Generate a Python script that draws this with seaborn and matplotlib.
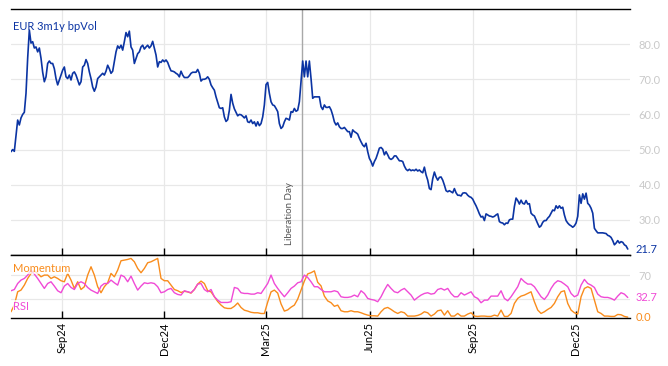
import numpy as np
import pandas as pd
import matplotlib
matplotlib.use("Agg")
import matplotlib.pyplot as plt
import matplotlib.dates as mdates
import matplotlib.transforms as mtransforms
import seaborn as sns

# ---------------- data ----------------
start_date = "2024-07-18"
end_date = "2026-01-16"
event_date = "2025-04-02"
event_label = "Liberation Day"
vol_label = "EUR 3m1y bpVol"
mom_label = "Momentum"
rsi_label = "RSI"

vol = [
    49.4, 50.0, 49.5, 54.0, 58.4, 57.0, 59.0, 60.0, 60.6, 66.0, 76.0, 84.0, 80.3, 80.7, 78.9, 79.2,
    77.8, 78.9, 76.0, 72.0, 69.3, 70.7, 74.5, 75.2, 74.5, 74.5, 73.0, 70.2, 68.4, 69.8, 71.2, 72.6,
    73.5, 70.7, 70.2, 71.2, 69.8, 71.7, 72.1, 71.2, 69.8, 68.4, 69.3, 73.5, 74.0, 75.6, 74.5, 72.1,
    70.2, 67.8, 66.6, 67.8, 70.2, 70.7, 71.2, 71.7, 71.2, 72.3, 74.0, 73.0, 71.7,
    72.3, 75.0, 77.8, 79.5, 78.8, 79.7, 78.3, 80.7, 83.3, 82.1, 83.7, 79.2, 78.3, 74.5, 75.9, 77.3,
    77.8, 79.2, 79.7, 78.6, 79.2, 79.7, 78.9, 79.5, 80.8, 78.8, 76.9, 73.5, 75.0, 74.8, 75.5, 75.0,
    75.5, 74.8, 73.5, 72.4, 72.3, 72.1, 71.7, 71.4, 70.7, 72.3, 71.2, 70.5, 70.5, 70.5, 71.0, 71.7,
    72.0, 72.0, 72.0, 72.8, 71.7, 69.5, 70.0, 70.0, 70.2, 70.7, 70.0, 68.4, 67.6,
    66.9, 65.0, 63.4, 61.9, 61.7, 61.9, 59.3, 58.0, 58.5, 61.2, 65.7, 63.2, 61.6, 60.6, 59.6, 60.0,
    59.9, 59.5, 59.0, 59.6, 57.9, 57.7, 58.4, 57.4, 57.9, 56.7, 57.9, 56.8, 57.4, 59.3, 62.7, 68.5,
    69.1, 66.0, 63.6, 62.7, 62.5, 61.7, 60.8, 57.4, 56.0, 56.5, 57.9, 58.9, 58.7, 58.4, 60.8, 60.6,
    61.7, 60.9, 61.2, 63.6, 69.3, 75.2, 70.7, 75.2, 70.7, 75.2, 70.2, 64.6, 65.0,
    65.0, 65.0, 65.0, 62.2, 61.4, 62.7, 62.0, 62.0, 62.2, 61.3, 59.8, 57.9, 57.0, 57.6, 56.5, 56.0,
    56.0, 56.3, 55.7, 55.1, 55.1, 53.5, 55.6, 55.1, 54.8, 54.4, 53.2, 52.2, 51.3, 50.8, 51.8, 49.4,
    47.5, 46.6, 45.3, 46.6, 47.5, 48.9, 50.4, 50.6, 50.1, 48.5, 49.4, 48.5, 47.5, 47.2, 47.5, 48.2,
    48.2, 47.5, 46.8, 46.8, 46.6, 45.3, 44.4, 44.0, 44.4, 44.0, 44.2, 44.0, 44.4, 43.9, 44.2,
    43.7, 43.4, 45.0, 42.8, 41.3, 38.9, 38.6, 41.7, 43.6, 42.2, 41.3, 42.1, 42.2, 41.3, 39.9, 38.3,
    38.0, 38.3, 38.0, 37.7, 38.9, 37.7, 37.0, 37.0, 36.8, 37.6, 37.7, 37.6, 37.0, 36.6, 36.4, 35.9,
    34.9, 34.0, 32.9, 31.7, 30.8, 31.0, 29.8, 31.7, 31.4, 31.1, 31.0, 30.8, 31.0, 31.4, 31.7, 29.5,
    29.2, 29.1, 28.6, 29.1, 29.0, 30.0, 30.2, 30.2, 33.8, 36.2, 35.5, 34.5, 35.6, 34.7, 34.5,
    35.5, 34.5, 34.6, 31.9, 31.4, 31.1, 30.0, 28.9, 27.9, 28.3, 29.3, 29.8, 29.8, 30.5, 31.0, 31.9,
    32.8, 32.6, 34.0, 33.3, 34.0, 33.3, 33.6, 31.4, 29.8, 29.1, 28.6, 28.3, 27.9, 28.3, 29.1, 31.0,
    37.1, 34.7, 37.4, 35.9, 37.6, 34.7, 34.2, 33.3, 31.9, 27.6, 26.9, 26.3, 26.3, 26.3, 26.3, 26.2,
    26.1, 25.6, 25.4, 25.0, 24.1, 22.9, 23.4, 24.1, 23.4, 23.8, 23.6, 22.9, 22.6, 21.7,
]

momentum = [
    8.9, 20, 42.2, 45, 53.3, 64.4, 72.8, 77.2, 72.8, 67.2,
    70, 70, 64.4, 67.2, 64.4, 60.6, 58.9, 72.8, 61.7, 47.8,
    58.9, 46, 50.6, 70, 83.9, 70, 50.6, 40.6, 50.6, 57.2,
    72.8, 67.2, 78.3, 93.9, 95, 96.1, 97.8, 92.2, 81.1, 73.9,
    81.1, 90.6, 92.2, 95, 97.8, 64.4, 60.6, 60.6, 53.3, 46,
    44, 41, 43, 42, 40, 46, 55, 60, 56, 44,
    42, 34, 26, 20, 15.5, 14.4, 14.4, 18, 23.5, 16,
    11.5, 10, 8, 7.2, 7.2, 6, 6, 25, 42, 45,
    40, 22, 10, 12, 16.5, 20, 30, 45, 60, 72,
    74, 77, 58, 52, 35, 27, 24, 18, 20,
    10.6, 8.9, 8.9, 10.6, 8.9, 8.9, 7.2, 5, 3.3, 2.2,
    2.2, 1.7, 8.9, 14.4, 16.1, 12.8, 8.9, 6.1, 8.9, 7.2,
    1.7, 1.7, 1.7, 2.8, 5, 8.9, 7.2, 1.7, 5, 10.6,
    11.7, 3.3, 10.6, 1.7, 1.7, 6.1, 1.7, 1.7, 5, 7.2,
    1.7, 1.1, 1.7, 1.7, 1.1, 1.1, 3.3, 1.7, 11.7, 1.1,
    1.1, 6.1, 22.8, 31.1, 35, 36.7, 39.4, 42.2, 25.6, 11.7,
    6.1, 8.9, 12.8, 16.1, 22.8, 33.9, 42.2, 43.9, 22.8, 11.7,
    7.2, 5, 33.9, 47.8, 50.6, 47.8, 28.3, 8.9, 6.1, 1.7,
    1.7, 1.1, 1.1, 4.4, 3.9, 1.1, 0.0,
]

rsi = [
    43.9, 46, 56, 61.7, 64.4, 70, 78, 71.7, 64.4, 56,
    47.8, 56, 58.9, 51.7, 43.9, 40.6, 51.7, 56, 49.4, 46,
    56, 58.9, 56, 49.4, 45, 42.2, 39.4, 51.7, 56, 56,
    61.7, 57.2, 53.3, 70, 67.2, 58.9, 68.3, 56, 45, 51.7,
    57.2, 56, 57.2, 56, 50.6, 40.6, 42.2, 46, 47.8, 40.6,
    37.8, 36.7, 43.9, 42.2, 40.6, 46, 55, 56, 46, 42.2,
    46, 33.9, 28.3, 24.4, 24.4, 24.4, 25.6, 49.4, 47.8, 40.6,
    39.4, 39.4, 38.3, 38.3, 40.6, 39.4, 47.8, 56, 70, 56,
    47.8, 40.6, 33.9, 40.6, 47.8, 51.7, 57.2, 58.9, 70, 66.1,
    58.9, 50.6, 50.6, 46, 42.2, 42.2, 42.2, 43.9, 42.2,
    33.9, 32.8, 32.8, 33.9, 36.7, 33.9, 43.9, 39.4, 31.1, 29.4,
    28.3, 25.6, 33.9, 45, 54.4, 47.8, 42.2, 40.6, 45, 47.8,
    42.2, 36.7, 28.3, 32.8, 36.7, 39.4, 40.6, 38.3, 39.4, 46,
    47.8, 45, 47.8, 39.4, 33.9, 33.9, 40.6, 36.7, 39.4, 42.2,
    33.9, 31.1, 23.9, 28.3, 28.3, 35, 35, 35, 43.9, 31.1,
    27.2, 33.9, 42.2, 50.6, 64.4, 58.9, 55, 55, 50.6, 42.2,
    33.9, 29.4, 36.7, 47.8, 56, 60.6, 58.9, 55, 50.6, 39.4,
    33.9, 36.7, 53.3, 62.8, 56, 53.3, 49.4, 38.3, 33.9, 32.8,
    32.8, 31.1, 28.3, 35, 40.6, 38.3, 32.7,
]

vol_yticks = [30, 40, 50, 60, 70, 80]
ind_grid = [30, 70]

# ---------------- styling ----------------
BLUE = "#0b34a3"
ORANGE = "#f98c1c"
MAGENTA = "#f04ad6"
GRID = "#e8e8e8"
TICKGRAY = "#c9c9c9"
FONT = ["Lato", "DejaVu Sans"]

sns.set_theme(style="white")
plt.rcParams["font.family"] = FONT

vol_df = pd.DataFrame({
    "date": pd.date_range(start_date, end_date, periods=len(vol)),
    "value": vol,
})
ind_dates = pd.date_range(start_date, end_date, periods=len(rsi))
ind_df = pd.DataFrame({"date": ind_dates, "momentum": momentum, "rsi": rsi})

fig = plt.figure(figsize=(6.68, 3.66), dpi=100)
W, H = 668, 366
left, right = 11 / W, 630 / W
ax = fig.add_axes([left, 1 - 255 / H, right - left, (255 - 9) / H])
ax2 = fig.add_axes([left, 1 - 318 / H, right - left, (318 - 255) / H], sharex=ax)

sns.lineplot(data=vol_df, x="date", y="value", ax=ax, color=BLUE, lw=1.2)
sns.lineplot(data=ind_df, x="date", y="momentum", ax=ax2, color=ORANGE, lw=1.0)
sns.lineplot(data=ind_df, x="date", y="rsi", ax=ax2, color=MAGENTA, lw=1.0)

x0 = pd.Timestamp(start_date)
x1 = pd.Timestamp(end_date) + pd.Timedelta(days=2)
ax.set_xlim(x0, x1)
ax.set_ylim(20, 90)
ax2.set_ylim(-1.5, 103.5)

for a in (ax, ax2):
    a.set_xlabel("")
    a.set_ylabel("")
    a.set_facecolor("white")
    for s in ("left", "right"):
        a.spines[s].set_visible(False)
    for s in ("top", "bottom"):
        a.spines[s].set_visible(True)
        a.spines[s].set_color("black")
        a.spines[s].set_linewidth(1.0)
    a.xaxis.set_major_locator(mdates.MonthLocator(bymonth=[3, 6, 9, 12]))
    a.xaxis.set_major_formatter(mdates.DateFormatter("%b%y"))
    a.grid(True, axis="both", color=GRID, lw=0.9)
    a.set_axisbelow(True)
    a.yaxis.tick_right()
    a.tick_params(axis="y", length=0, pad=6, labelsize=8, labelcolor=TICKGRAY)
    a.tick_params(axis="x", direction="in", length=5, width=1, color="black",
                  bottom=True, top=False)
    a.axvline(pd.Timestamp(event_date), color="#a8a8a8", lw=1.0, zorder=1.5)

ax.tick_params(axis="x", labelbottom=False)
ax2.tick_params(axis="x", labelsize=8, labelcolor="black", pad=3)
for lbl in ax2.get_xticklabels():
    lbl.set_rotation(90)

ax.set_yticks(vol_yticks)
ax.set_yticklabels([f"{v:.1f}" for v in vol_yticks])
ax2.set_yticks(ind_grid)
ax2.set_yticklabels(["", "70"])

# end-value labels on the right
def right_label(a, y, text, color):
    tr = mtransforms.blended_transform_factory(a.transAxes, a.transData)
    tr = mtransforms.offset_copy(tr, fig=fig, x=6, y=0, units="dots")
    a.text(1.0, y, text, transform=tr, ha="left", va="center", fontsize=8,
           color=color, clip_on=False)

right_label(ax, vol[-1], f"{vol[-1]:.1f}", BLUE)
right_label(ax2, rsi[-1], f"{rsi[-1]:.1f}", MAGENTA)
right_label(ax2, momentum[-1], f"{momentum[-1]:.1f}", ORANGE)

# series labels
ax.text(0.004, 0.93, vol_label, transform=ax.transAxes, fontsize=8, color=BLUE,
        ha="left", va="center")
ax2.text(0.004, 0.79, mom_label, transform=ax2.transAxes, fontsize=8, color=ORANGE,
         ha="left", va="center",
         bbox=dict(facecolor="white", alpha=0.75, edgecolor="none", pad=0.5))
ax2.text(0.004, 0.18, rsi_label, transform=ax2.transAxes, fontsize=8, color=MAGENTA,
         ha="left", va="center",
         bbox=dict(facecolor="white", alpha=0.75, edgecolor="none", pad=0.5))

# event annotation
ev = pd.Timestamp(event_date) - pd.Timedelta(days=11)
ax.text(ev, 22.8, event_label, rotation=90, fontsize=7, color="#555555",
        ha="center", va="bottom")

fig.savefig("out.png", dpi=100, facecolor="white")
